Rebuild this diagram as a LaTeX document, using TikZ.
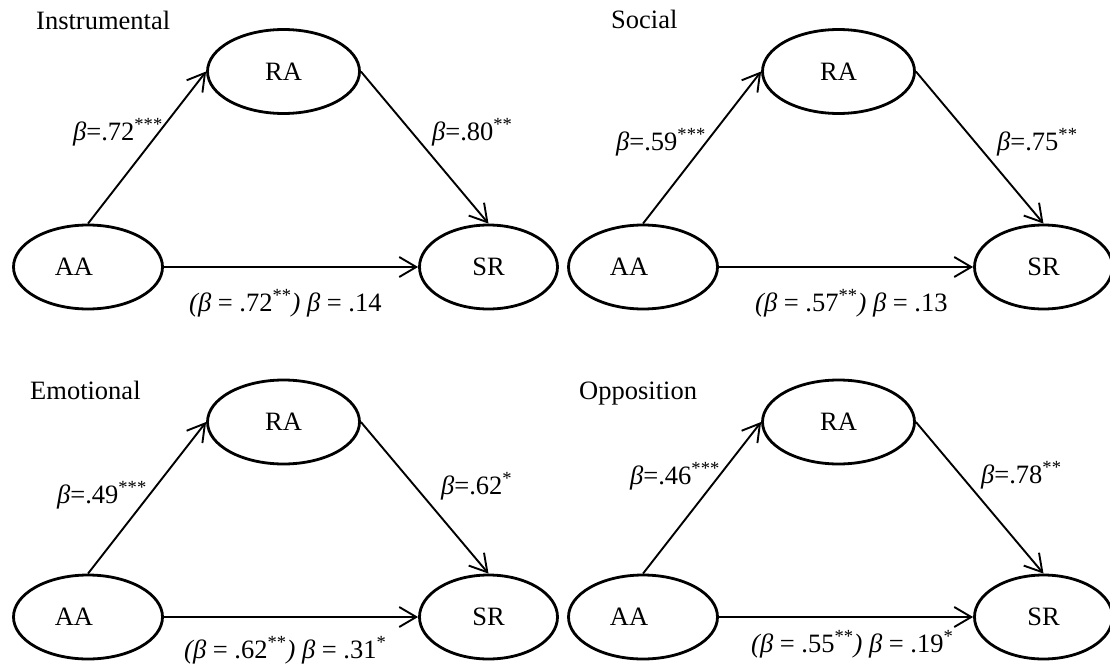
\documentclass[tikz,border=0pt]{standalone}
\usepackage{fontspec}
\setmainfont{Liberation Serif}
\usetikzlibrary{shapes.geometric,arrows.meta}
\newcommand{\bt}{\textit{β}}
\newcommand{\aatext}{\makebox[0pt]{AA\hspace*{28pt}}}
\begin{document}
\begin{tikzpicture}[x=1pt,y=-1pt,
  font=\fontsize{26.5}{30}\selectfont,
  latent/.style={ellipse,draw,line width=2.8pt,minimum height=84pt,inner sep=0pt},
  ranode/.style={latent,minimum width=152pt},
  aanode/.style={latent,minimum width=149pt},
  srnode/.style={latent,minimum width=138pt},
  conn/.style={line width=1.9pt,-{Straight Barb[length=17pt,width=20pt]}},
  lbl/.style={anchor=base west,inner sep=0pt}]
\useasboundingbox (0,0) rectangle (1110,669);

% ---------- Panel 1: Instrumental ----------
\node[lbl] (t1) at (36,30) {Instrumental};
\node[ranode] (ra1) at (283.5,71.5) {RA};
\node[aanode] (aa1) at (88,267) {\aatext};
\node[srnode] (sr1) at (488.5,267) {SR};
\draw[conn] (aa1.north) -- (ra1.west);
\draw[conn] (ra1.east) -- (sr1.north);
\draw[conn] (aa1.east) -- (sr1.west);
\node[lbl] (a1) at (73,140) {\bt=.72\textsuperscript{***}};
\node[lbl] (b1) at (432,140) {\bt=.80\textsuperscript{**}};
\node[lbl] (c1) at (189,311) {\textit{(β} = .72\textsuperscript{**}\textit{)} \bt{} = .14};

% ---------- Panel 2: Social ----------
\node[lbl] (t2) at (611,29) {Social};
\node[ranode] (ra2) at (838.5,71.5) {RA};
\node[aanode] (aa2) at (643,267) {\aatext};
\node[srnode] (sr2) at (1043.5,267) {SR};
\draw[conn] (aa2.north) -- (ra2.west);
\draw[conn] (ra2.east) -- (sr2.north);
\draw[conn] (aa2.east) -- (sr2.west);
\node[lbl] (a2) at (616,150) {\bt=.59\textsuperscript{***}};
\node[lbl] (b2) at (997,150) {\bt=.75\textsuperscript{**}};
\node[lbl] (c2) at (755,311) {\textit{(β} = .57\textsuperscript{**}\textit{)} \bt{} = .13};

% ---------- Panel 3: Emotional ----------
\node[lbl] (t3) at (30,399) {Emotional};
\node[ranode] (ra3) at (283.5,422) {RA};
\node[aanode] (aa3) at (88,617) {\aatext};
\node[srnode] (sr3) at (488.5,617) {SR};
\draw[conn] (aa3.north) -- (ra3.west);
\draw[conn] (ra3.east) -- (sr3.north);
\draw[conn] (aa3.east) -- (sr3.west);
\node[lbl] (a3) at (57,503) {\bt=.49\textsuperscript{***}};
\node[lbl] (b3) at (441,494) {\bt=.62\textsuperscript{*}};
\node[lbl] (c3) at (184,658) {\textit{(β} = .62\textsuperscript{**}\textit{)} \bt{} = .31\textsuperscript{*}};

% ---------- Panel 4: Opposition ----------
\node[lbl] (t4) at (579,399) {Opposition};
\node[ranode] (ra4) at (838.5,422) {RA};
\node[aanode] (aa4) at (643,617) {\aatext};
\node[srnode] (sr4) at (1043.5,617) {SR};
\draw[conn] (aa4.north) -- (ra4.west);
\draw[conn] (ra4.east) -- (sr4.north);
\draw[conn] (aa4.east) -- (sr4.west);
\node[lbl] (a4) at (630,484) {\bt=.46\textsuperscript{***}};
\node[lbl] (b4) at (981,483) {\bt=.78\textsuperscript{**}};
\node[lbl] (c4) at (751,652) {\textit{(β} = .55\textsuperscript{**}\textit{)} \bt{} = .19\textsuperscript{*}};
\end{tikzpicture}
\end{document}
